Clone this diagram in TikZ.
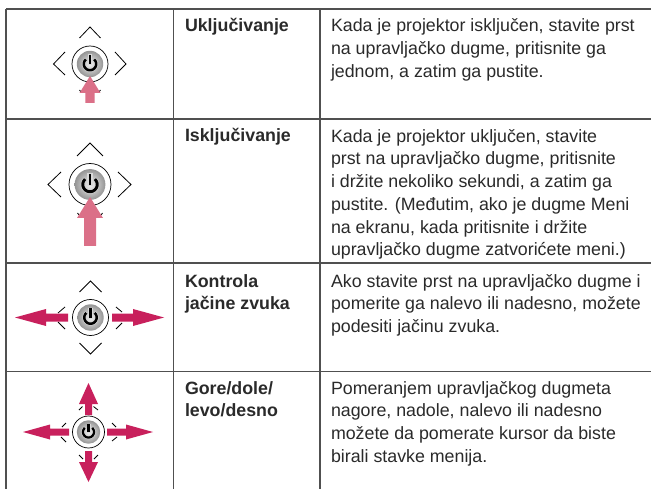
\documentclass[tikz,border=0pt]{standalone}
\usepackage{fontspec}
\setmainfont{Liberation Sans}
\definecolor{rule}{HTML}{505050}
\definecolor{ink}{HTML}{2A2A2A}
\definecolor{palearrow}{HTML}{DB7088}
\definecolor{deeparrow}{HTML}{C8205C}
\tikzset{
  x=1pt,y=-1pt,
  gridline/.style={draw=rule,line width=1.3pt},
  chev/.style={draw=black,line width=0.8pt,line cap=butt},
  txt/.style={inner sep=0pt,outer sep=0pt,anchor=north west,align=left,text=ink,font=\fontsize{17.8}{22.8}\selectfont},
  ttl/.style={txt,font=\fontsize{17.8}{22.8}\selectfont\bfseries},
}
\newcommand{\firstl}{\rule{0pt}{14pt}}
% centre x, centre y, ring radius
\newcommand{\powerbtn}[3]{%
  \begin{scope}[shift={(#1,#2)}]
    \pgfmathsetmacro{\rr}{#3}
    \pgfmathsetmacro{\kk}{#3/18}
    \draw[black,line width=0.7pt,fill=white] (0,0) circle[radius=\rr];
    \shade[inner color=black!5,outer color=black!42] (0,0) circle[radius=13.2*\kk];
    \draw[white!85!black,line width=3.4*\kk pt] plot[smooth,domain=40:320,samples=24] ({6.2*\kk*sin(\x)},{-6.2*\kk*cos(\x)});
    \draw[black,line width=2.5*\kk pt] plot[smooth,domain=42:318,samples=24] ({6.2*\kk*sin(\x)},{-6.2*\kk*cos(\x)});
    \draw[white!85!black,line width=4.5*\kk pt] (0,-9.5*\kk) -- (0,1.5*\kk);
    \draw[black,line width=2.5*\kk pt] (0,-9*\kk) -- (0,0.5*\kk);
  \end{scope}}
% block arrow polygon: tail, head base, tip along axis, half shaft, half head
\newcommand{\uparr}[7]{\fill[#7] (#1-#5,#2) -- (#1-#5,#3) -- (#1-#6,#3) -- (#1,#4) -- (#1+#6,#3) -- (#1+#5,#3) -- (#1+#5,#2) -- cycle;}
\newcommand{\sidearr}[7]{\fill[#7] (#2,#1-#5) -- (#3,#1-#5) -- (#3,#1-#6) -- (#4,#1) -- (#3,#1+#6) -- (#3,#1+#5) -- (#2,#1+#5) -- cycle;}
\begin{document}
\begin{tikzpicture}
\useasboundingbox (0,0) rectangle (651,489);
\fill[white] (0,0) rectangle (651,489);
% table rules
\foreach \yy in {9,119,263,371.5} \draw[gridline] (6,\yy) -- (651,\yy);
\foreach \xx in {6,173.3,320} \draw[gridline] (\xx,9) -- (\xx,489);
% titles
\node[ttl] (t1) at (185,17.5) {\firstl Uključivanje};
\node[ttl] (t2) at (185,128) {\firstl Isključivanje};
\node[ttl] (t3) at (185,273) {\firstl Kontrola\\jačine zvuka};
\node[ttl] (t4) at (185,380) {\firstl Gore/dole/\\levo/desno};
% descriptions
\node[txt] (d1) at (331,17.5) {\firstl Kada je projektor isključen, stavite prst\\na upravljačko dugme, pritisnite ga\\jednom, a zatim ga pustite.};
\node[txt] (d2) at (331,128) {\firstl Kada je projektor uključen, stavite\\prst na upravljačko dugme, pritisnite\\i držite nekoliko sekundi, a zatim ga\\pustite. (Međutim, ako je dugme Meni\\na ekranu, kada pritisnite i držite\\upravljačko dugme zatvorićete meni.)};
\node[txt] (d3) at (331,273) {\firstl Ako stavite prst na upravljačko dugme i\\pomerite ga nalevo ili nadesno, možete\\podesiti jačinu zvuka.};
\node[txt] (d4) at (331,380) {\firstl Pomeranjem upravljačkog dugmeta\\nagore, nadole, nalevo ili nadesno\\možete da pomerate kursor da biste\\birali stavke menija.};
% icon 1
\draw[chev] (79.5,38) -- (90,27) -- (100.5,38);
\draw[chev] (65,52) -- (53.5,64) -- (65,75);
\draw[chev] (115,52) -- (126,64) -- (115,75);
\draw[chev] (79.5,90) -- (81,92); \draw[chev] (99,92) -- (100.5,90);
\powerbtn{90}{64}{18}
\uparr{90}{103}{93}{76}{4.7}{10.5}{palearrow}
% icon 2
\draw[chev] (77,156) -- (90,143) -- (103,156);
\draw[chev] (61,172) -- (48,184.5) -- (61,197);
\draw[chev] (118,172) -- (131,184.5) -- (118,197);
\draw[chev] (77.5,213) -- (79,215); \draw[chev] (101,215) -- (102.5,213);
\powerbtn{90}{184.5}{21}
\uparr{90}{246}{218}{197}{6}{13}{palearrow}
% icon 3
\draw[chev] (79.5,292) -- (90.5,281) -- (101.5,292);
\draw[chev] (79.5,343) -- (90.5,354) -- (101.5,343);
\draw[chev] (65,307) -- (58,313); \draw[chev] (58,322) -- (65,329);
\draw[chev] (116,307) -- (122,312); \draw[chev] (116,329) -- (122,323);
\powerbtn{90.5}{317.5}{18}
\sidearr{317.5}{68}{46}{15}{4}{8.5}{deeparrow}
\sidearr{317.5}{112}{133}{164}{4}{8.5}{deeparrow}
% icon 4
\draw[chev] (79,410) -- (82.5,406.5); \draw[chev] (93.5,406.5) -- (98,410);
\draw[chev] (62,427) -- (66,423); \draw[chev] (61,437) -- (66,442);
\draw[chev] (112,423) -- (116,427); \draw[chev] (112,441) -- (117,437);
\draw[chev] (79,455) -- (83,459); \draw[chev] (94,459) -- (98,455);
\powerbtn{88.5}{432}{16}
\uparr{88.5}{415}{404}{383}{3.5}{9.5}{deeparrow}
\uparr{88.5}{451}{462}{482}{3.5}{9.5}{deeparrow}
\sidearr{432}{69}{50}{23}{3.5}{7.5}{deeparrow}
\sidearr{432}{107}{126}{153}{3.5}{7.5}{deeparrow}
\end{tikzpicture}
\end{document}
